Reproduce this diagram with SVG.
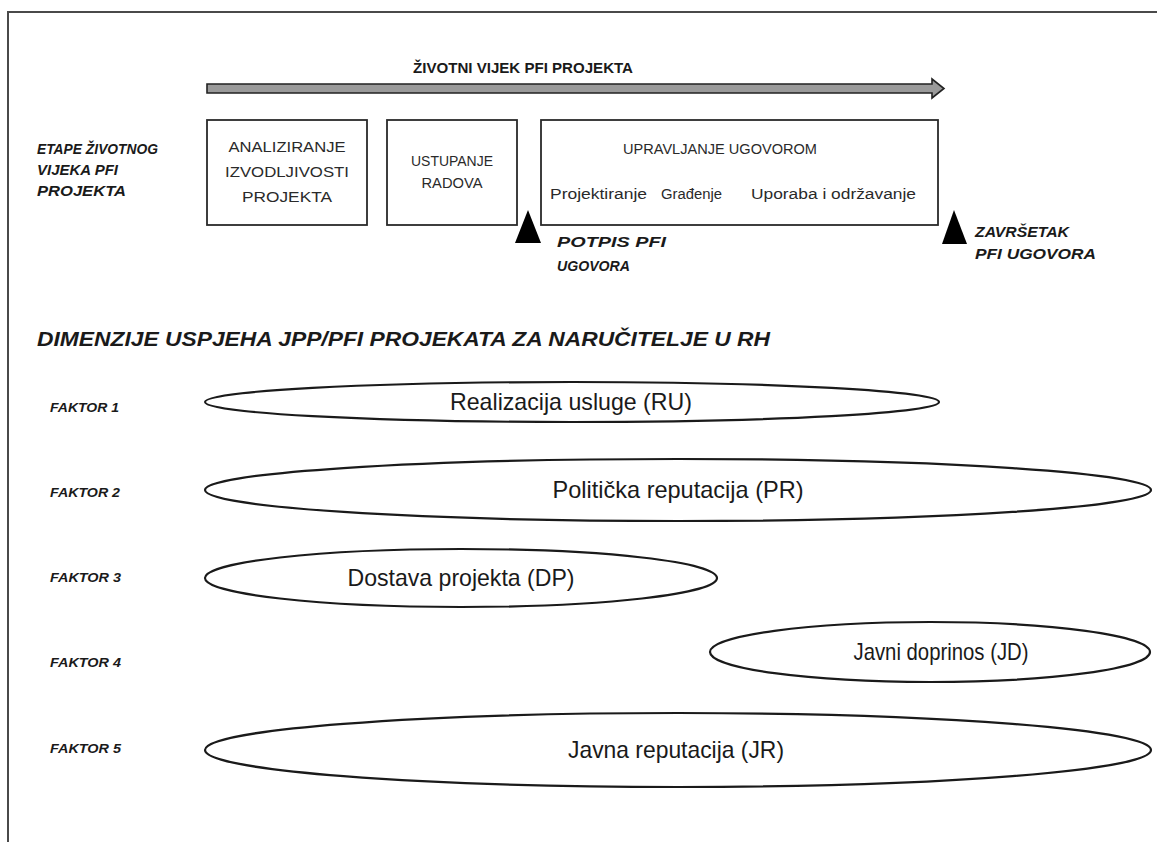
<svg xmlns="http://www.w3.org/2000/svg" width="1157" height="842" viewBox="0 0 1157 842">
<style>
.bd{fill:none;stroke:#4a4a4a;stroke-width:2}
.box{fill:#fff;stroke:#2a2a2a;stroke-width:1.8}
.ell{fill:#fff;stroke:#1a1a1a;stroke-width:2.2}
.bt{font-family:"Liberation Sans",Arial,sans-serif;font-size:15.5px;fill:#2a2a2a;text-anchor:middle}
.st{font-family:"Liberation Sans",Arial,sans-serif;font-size:15.5px;fill:#2a2a2a}
.bi{font-family:"Liberation Sans",Arial,sans-serif;font-weight:bold;font-style:italic;fill:#1a1a1a}
.et{font-family:"Liberation Sans",Arial,sans-serif;font-size:24px;fill:#1a1a1a;text-anchor:middle}
.tri{fill:#000}
</style>
<rect width="1157" height="842" fill="#fff"/>
<path class="bd" d="M8,842 L8,12 L1157,12"/>

<g id="timeline">
<text x="523" y="73" font-family="Liberation Sans,Arial,sans-serif" font-weight="bold" font-size="14.5" fill="#1a1a1a" text-anchor="middle" textLength="220" lengthAdjust="spacingAndGlyphs">ŽIVOTNI VIJEK PFI PROJEKTA</text>
<path d="M207,84 L932,84 L932,79 L944,88.5 L932,98 L932,93 L207,93 Z" fill="#9a9a9a" stroke="#222" stroke-width="1.6" stroke-linejoin="miter"/>
</g>

<g id="stages-label">
<text class="bi" font-size="14.5" x="37" y="154" textLength="121" lengthAdjust="spacingAndGlyphs">ETAPE ŽIVOTNOG</text>
<text class="bi" font-size="14.5" x="37" y="175" textLength="81" lengthAdjust="spacingAndGlyphs">VIJEKA PFI</text>
<text class="bi" font-size="14.5" x="37" y="196" textLength="89" lengthAdjust="spacingAndGlyphs">PROJEKTA</text>
</g>

<g id="box-analiziranje">
<rect class="box" x="207" y="120" width="160" height="105"/>
<text class="bt" x="287" y="152" textLength="117" lengthAdjust="spacingAndGlyphs">ANALIZIRANJE</text>
<text class="bt" x="287" y="177" textLength="124" lengthAdjust="spacingAndGlyphs">IZVODLJIVOSTI</text>
<text class="bt" x="287" y="202" textLength="90" lengthAdjust="spacingAndGlyphs">PROJEKTA</text>
</g>

<g id="box-ustupanje">
<rect class="box" x="387" y="120" width="130" height="105"/>
<text class="bt" x="452" y="166" textLength="82" lengthAdjust="spacingAndGlyphs">USTUPANJE</text>
<text class="bt" x="452" y="188" textLength="61" lengthAdjust="spacingAndGlyphs">RADOVA</text>
</g>

<g id="box-upravljanje">
<rect class="box" x="541" y="120" width="397" height="105"/>
<text class="bt" x="720" y="154" textLength="194" lengthAdjust="spacingAndGlyphs">UPRAVLJANJE UGOVOROM</text>
<text class="st" x="550" y="199" textLength="97" lengthAdjust="spacingAndGlyphs">Projektiranje</text>
<text class="st" x="661" y="199" textLength="61" lengthAdjust="spacingAndGlyphs">Građenje</text>
<text class="st" x="751" y="199" textLength="165" lengthAdjust="spacingAndGlyphs">Uporaba i održavanje</text>
</g>

<g id="milestone-potpis">
<polygon class="tri" points="528,210 541,243 515,243"/>
<text class="bi" font-size="14.5" x="557" y="247" textLength="109" lengthAdjust="spacingAndGlyphs">POTPIS PFI</text>
<text class="bi" font-size="14.5" x="557" y="271" textLength="73" lengthAdjust="spacingAndGlyphs">UGOVORA</text>
</g>

<g id="milestone-zavrsetak">
<polygon class="tri" points="954,210 967,244 942,244"/>
<text class="bi" font-size="14.5" x="975" y="237" textLength="94" lengthAdjust="spacingAndGlyphs">ZAVRŠETAK</text>
<text class="bi" font-size="14.5" x="975" y="259" textLength="121" lengthAdjust="spacingAndGlyphs">PFI UGOVORA</text>
</g>

<g id="heading">
<text class="bi" font-size="21" x="37" y="346" textLength="733" lengthAdjust="spacingAndGlyphs">DIMENZIJE USPJEHA JPP/PFI PROJEKATA ZA NARUČITELJE U RH</text>
</g>

<g id="faktor-1">
<text class="bi" font-size="13.5" x="50" y="412" textLength="69" lengthAdjust="spacingAndGlyphs">FAKTOR 1</text>
<ellipse class="ell" cx="572" cy="402" rx="367" ry="20"/>
<text class="et" x="571" y="410" textLength="242" lengthAdjust="spacingAndGlyphs">Realizacija usluge (RU)</text>
</g>

<g id="faktor-2">
<text class="bi" font-size="13.5" x="50" y="497" textLength="70" lengthAdjust="spacingAndGlyphs">FAKTOR 2</text>
<ellipse class="ell" cx="678" cy="490" rx="473" ry="31"/>
<text class="et" x="678" y="498" textLength="251" lengthAdjust="spacingAndGlyphs">Politička reputacija (PR)</text>
</g>

<g id="faktor-3">
<text class="bi" font-size="13.5" x="50" y="582" textLength="71" lengthAdjust="spacingAndGlyphs">FAKTOR 3</text>
<ellipse class="ell" cx="461" cy="578" rx="256" ry="29"/>
<text class="et" x="461" y="586" textLength="227" lengthAdjust="spacingAndGlyphs">Dostava projekta (DP)</text>
</g>

<g id="faktor-4">
<text class="bi" font-size="13.5" x="50" y="667" textLength="71" lengthAdjust="spacingAndGlyphs">FAKTOR 4</text>
<ellipse class="ell" cx="930" cy="652" rx="220" ry="30"/>
<text class="et" x="941" y="660" textLength="175" lengthAdjust="spacingAndGlyphs">Javni doprinos (JD)</text>
</g>

<g id="faktor-5">
<text class="bi" font-size="13.5" x="50" y="753" textLength="71" lengthAdjust="spacingAndGlyphs">FAKTOR 5</text>
<ellipse class="ell" cx="678" cy="750" rx="473" ry="37"/>
<text class="et" x="676" y="758" textLength="216" lengthAdjust="spacingAndGlyphs">Javna reputacija (JR)</text>
</g>

<g id="connectors"></g>
</svg>
